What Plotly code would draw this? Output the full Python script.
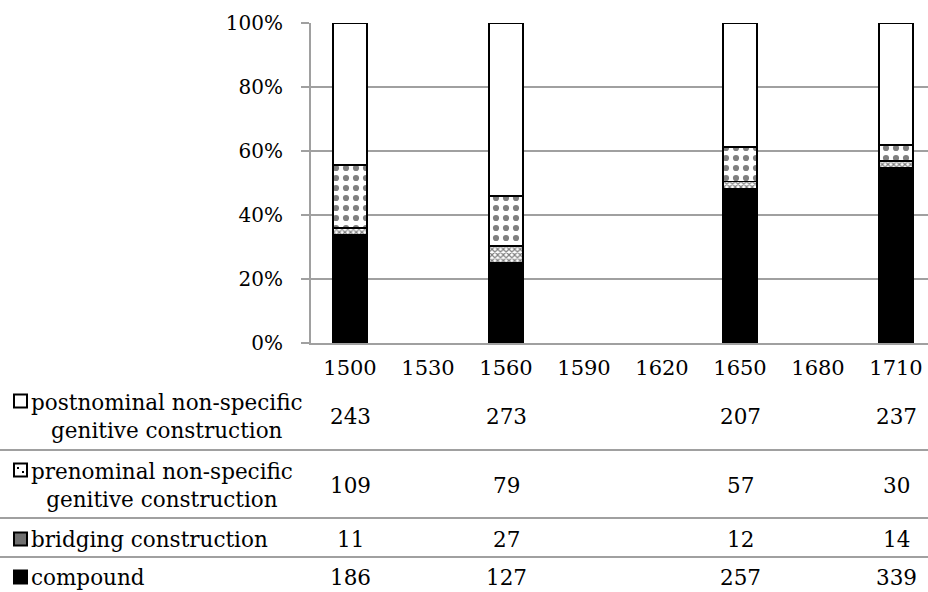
import plotly.graph_objects as go

years = ["1500", "1530", "1560", "1590", "1620", "1650", "1680", "1710"]
compound = [186, None, 127, None, None, 257, None, 339]
bridging = [11, None, 27, None, None, 12, None, 14]
prenominal = [109, None, 79, None, None, 57, None, 30]
postnominal = [243, None, 273, None, None, 207, None, 237]

series_names = [
    "compound",
    "bridging construction",
    "prenominal non-specific<br>genitive construction",
    "postnominal non-specific<br>genitive construction",
]

W, H = 928, 592
L, R, T, B = 311, 0, 23, 249
PW, PH = W - L - R, H - T - B

def px_x(px):
    return (px - L) / PW

def px_y(py):
    return (H - B - py) / PH

FONT = "DejaVu Serif"
GRID = "#A0A0A0"

fig = go.Figure()
line = dict(color="black", width=1.8)
fig.add_bar(x=years, y=compound, name=series_names[0],
            marker=dict(color="black", line=line))
fig.add_bar(x=years, y=bridging, name=series_names[1],
            marker=dict(color="white", line=line,
                        pattern=dict(shape="x", size=4, solidity=0.5,
                                     fgcolor="black", bgcolor="white")))
fig.add_bar(x=years, y=prenominal, name=series_names[2],
            marker=dict(color="white", line=line,
                        pattern=dict(shape=".", size=10, solidity=0.3,
                                     fgcolor="black", bgcolor="white")))
fig.add_bar(x=years, y=postnominal, name=series_names[3],
            marker=dict(color="white", line=line))

fig.update_layout(
    width=W, height=H,
    margin=dict(l=L, r=R, t=T, b=B, pad=0),
    barmode="stack", barnorm="percent", bargap=0.565,
    plot_bgcolor="white", paper_bgcolor="white",
    showlegend=False,
    font=dict(family=FONT, size=21, color="black"),
)
fig.update_xaxes(
    type="category", range=[-0.5, 7 + (W - 896) / 78],
    showline=True, linecolor=GRID, linewidth=2,
    showgrid=False, ticks="", tickfont=dict(family=FONT, size=21),
    ticklabelstandoff=5,
)
fig.update_yaxes(
    range=[0, 100], dtick=20, ticksuffix="%",
    showline=True, linecolor=GRID, linewidth=2,
    showgrid=True, gridcolor=GRID, gridwidth=2,
    ticks="outside", ticklen=8, tickwidth=2, tickcolor=GRID,
    tickfont=dict(family=FONT, size=20), ticklabelstandoff=14, zeroline=False,
)

# data table rows (top to bottom)
rows = [
    (postnominal, series_names[3], 416),
    (prenominal, series_names[2], 485),
    (bridging, series_names[1], 539),
    (compound, series_names[0], 577),
]

for vals, name, ycen in rows:
    for idx, v in enumerate(vals):
        if v is not None:
            fig.add_annotation(x=idx, y=px_y(ycen), xref="x", yref="paper",
                               text=str(v), showarrow=False,
                               font=dict(family=FONT, size=21.5),
                               xanchor="center", yanchor="middle")
    fig.add_annotation(x=px_x(29), y=px_y(ycen), xref="paper", yref="paper",
                       text=name, showarrow=False, align="center",
                       font=dict(family=FONT, size=21.5),
                       xanchor="left", yanchor="middle")

# row separator lines
for ly in [450, 518, 557]:
    fig.add_shape(type="line", xref="paper", yref="paper",
                  x0=px_x(0), x1=1, y0=px_y(ly), y1=px_y(ly),
                  line=dict(color=GRID, width=2))

# legend keys
keys = [(401, "white"), (470, "white"), (539, "#707070"), (577, "black")]
for ky, fill in keys:
    fig.add_shape(type="rect", xref="paper", yref="paper",
                  x0=px_x(14), x1=px_x(27), y0=px_y(ky - 6.5), y1=px_y(ky + 6.5),
                  fillcolor=fill, line=dict(color="black", width=2))
# dots in prenominal key
for dx, dy in [(-2.5, -2), (2.5, 2)]:
    fig.add_shape(type="rect", xref="paper", yref="paper",
                  x0=px_x(20.5 + dx - 1), x1=px_x(20.5 + dx + 1),
                  y0=px_y(470 + dy - 1), y1=px_y(470 + dy + 1),
                  fillcolor="black", line=dict(width=0))

fig.write_html("out.html")
